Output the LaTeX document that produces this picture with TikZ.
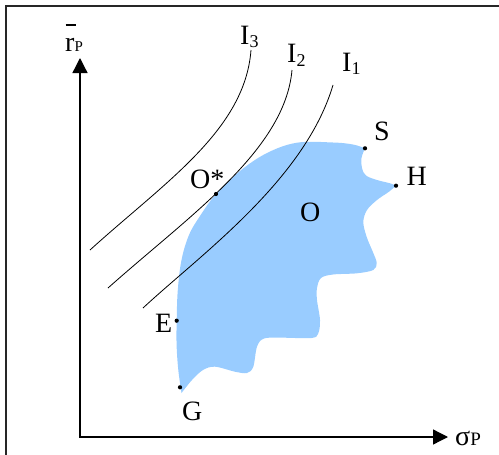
\documentclass[tikz,border=0pt]{standalone}
\usepackage{fontspec}
\setmainfont{Liberation Serif}
\usetikzlibrary{arrows.meta}
\definecolor{blobblue}{RGB}{153,204,255}
\newcommand\mysub[1]{{\fontsize{18}{18}\selectfont\raisebox{-3pt}{#1}}}
\begin{document}
\begin{tikzpicture}[x=1pt,y=-1pt,
  dot/.style={circle,fill=black,inner sep=0pt,minimum size=4.2pt},
  lbl/.style={inner sep=0pt,anchor=base west,font=\fontsize{28}{30}\selectfont},
  icurve/.style={line width=0.8pt},
  axisline/.style={line width=1.3pt,{Triangle[length=15pt,width=15pt]}-{Triangle[length=15pt,width=15pt]}}]
\useasboundingbox (0,0) rectangle (499,455);
\clip (0,0) rectangle (499,455);
\draw[line width=1.5pt,black!85] (6,6) rectangle (510,470);
% opportunity set
\fill[blobblue]
  plot[smooth,tension=0.6] coordinates {(181.5,393) (178.3,370) (176.6,345) (176.7,320) (177.8,290) (181.5,260) (189,235) (200,216) (216,194) (240,171) (267,153) (297,142.7) (333,142.5) (353,144.5) (365,148.3)}
  -- plot[smooth,tension=0.6] coordinates {(365,148.3) (361.5,158) (362,168) (366,175.5) (377,180) (390,183.3) (396,185.7)}
  -- plot[smooth,tension=0.55] coordinates {(396,185.7) (389,191.7) (377,200) (367,210) (363.3,222) (366.7,237) (373.3,253) (376.7,263) (373.3,270) (357,273.3) (333,274.5) (321,278) (317,288) (317,300) (320,320) (318.3,333.3) (311.7,338) (282,337.7) (264,338.5) (257,346.7) (253.3,366.7) (247,373) (235,371.7) (215,366.7) (203,370) (192,380) (181.5,393)}
  -- cycle;
% axes
\coordinate (ytip) at (80,58);
\coordinate (origin) at (80,437);
\coordinate (xtip) at (448,437);
\draw[axisline] (ytip) -- (origin) -- (xtip);
% indifference curves
\coordinate (i3a) at (90,250);  \coordinate (i3b) at (251,50);
\coordinate (i2a) at (108,288); \coordinate (i2b) at (292,70);
\coordinate (i1a) at (143,308); \coordinate (i1b) at (333,85);
\draw[icurve] (i3a) .. controls (165,182) and (245,130) .. (i3b);
\draw[icurve] (i2a) .. controls (190,215) and (285,150) .. (i2b);
\draw[icurve] (i1a) .. controls (200,255) and (305,180) .. (i1b);
% points
\node[dot] (Ostar) at (216,194) {};
\node[dot] (S) at (365,148.3) {};
\node[dot] (H) at (396,185.7) {};
\node[dot] (E) at (176.7,320.7) {};
\node[dot] (G) at (180,387.3) {};
% labels
\node[lbl] (lI3) at (240,45) {I\mysub{3}};
\node[lbl] (lI2) at (287,63) {I\mysub{2}};
\node[lbl] (lI1) at (342,71.7) {I\mysub{1}};
\node[lbl] (lOstar) at (190,188) {O*};
\node[lbl] (lS) at (374,140) {S};
\node[lbl] (lH) at (406.5,185) {H};
\node[lbl] (lO) at (300,221.7) {O};
\node[lbl] (lE) at (155,332) {E};
\node[lbl] (lG) at (182,420) {G};
\node[lbl] (lr) at (65,51.7) {r{\fontsize{15}{15}\selectfont P}};
\draw[line width=1.6pt] (65.5,25) -- (76,25);
\node[lbl] (lsigma) at (455,445) {σ{\fontsize{19}{19}\selectfont P}};
\end{tikzpicture}
\end{document}
